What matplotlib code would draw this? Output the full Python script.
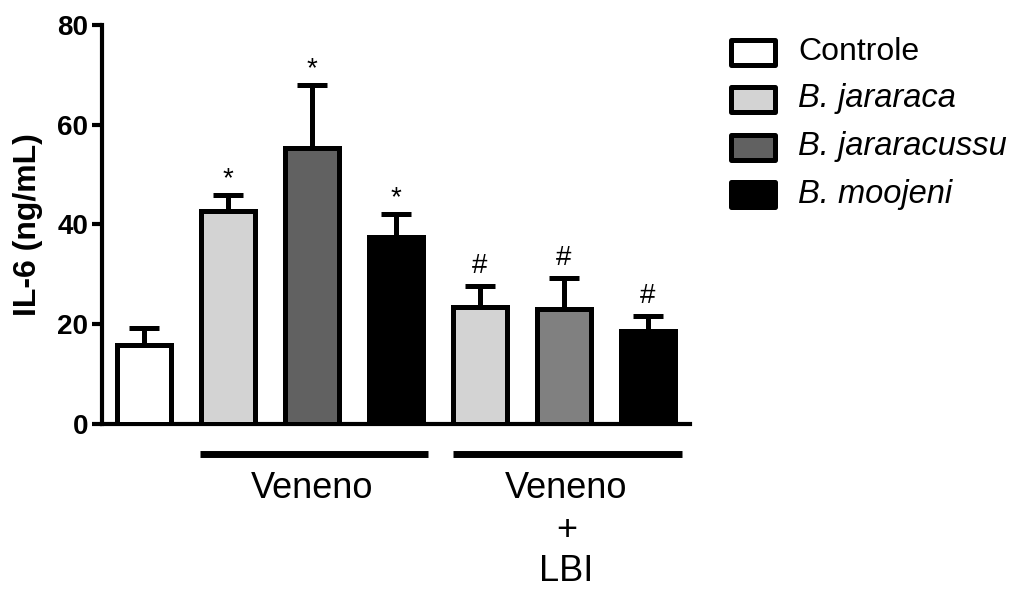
import matplotlib
matplotlib.use("Agg")
import matplotlib.pyplot as plt
from matplotlib.patches import Rectangle
import numpy as np

plt.rcParams['font.family'] = ['Liberation Sans', 'DejaVu Sans']

# values (IL-6, ng/mL; mean and upper SEM)
groups = ['Controle', 'B. jararaca', 'B. jararacussu', 'B. moojeni',
          'B. jararaca + LBI', 'B. jararacussu + LBI', 'B. moojeni + LBI']
means = [15.7, 42.6, 55.4, 37.4, 23.3, 22.9, 18.6]
sem = [3.5, 3.2, 12.5, 4.6, 4.4, 6.4, 2.9]
marks = ['', '*', '*', '*', '#', '#', '#']
bar_colors = ['white', '#d3d3d3', '#616161', 'black', '#d3d3d3', '#808080', 'black']

legend_labels = ['Controle', 'B. jararaca', 'B. jararacussu', 'B. moojeni']
legend_colors = ['white', '#d3d3d3', '#616161', 'black']
legend_styles = ['normal', 'italic', 'italic', 'italic']

W, H = 1017, 590
fig = plt.figure(figsize=(W / 100, H / 100), dpi=100)
ax = fig.add_axes([102 / W, 1 - 423.5 / H, 588 / W, 398.5 / H])

x = np.arange(len(means))
ax.bar(x, means, width=0.64, color=bar_colors, edgecolor='black',
       linewidth=3.6, zorder=3)
ax.errorbar(x, means, yerr=[np.zeros(len(sem)), sem], fmt='none', ecolor='black',
            elinewidth=3.6, capsize=10.5, capthick=3.6, zorder=2)

for xi, m, s, mk in zip(x, means, sem, marks):
    if not mk:
        continue
    off = 2 if mk == '*' else 5
    ax.annotate(mk, (xi, m + s), xytext=(0, off), textcoords='offset points',
                ha='center', va='bottom', fontsize=20)

ax.set_xlim(-0.5, 6.5)
ax.set_ylim(0, 80)
ax.set_yticks([0, 20, 40, 60, 80])
ax.set_xticks([])
for sp in ['top', 'right']:
    ax.spines[sp].set_visible(False)
for sp in ['left', 'bottom']:
    ax.spines[sp].set_linewidth(3)
ax.tick_params(axis='y', length=7, width=3, pad=3, labelsize=20)
for lab in ax.get_yticklabels():
    lab.set_fontweight('bold')

ax.set_ylabel('IL-6 (ng/mL)', fontsize=23, fontweight='bold')
ax.yaxis.set_label_coords(-0.10, 0.5)

# group brackets under the axis
ax.plot([0.67, 3.38], [-6.1, -6.1], color='black', lw=5, clip_on=False,
        solid_capstyle='butt')
ax.plot([3.68, 6.40], [-6.1, -6.1], color='black', lw=5, clip_on=False,
        solid_capstyle='butt')
ax.text(2.0, -9.6, 'Veneno', ha='center', va='top', fontsize=26)
ax.text(5.03, -9.6, 'Veneno\n+\nLBI', ha='center', va='top', fontsize=26,
        linespacing=1.24)

# legend
row_y = [52, 99, 147, 195]
for yy, lab, col, st in zip(row_y, legend_labels, legend_colors, legend_styles):
    fig.add_artist(Rectangle(((729 + 2) / W, 1 - (yy + 12.5) / H), 44 / W, 25 / H,
                             transform=fig.transFigure, facecolor=col,
                             edgecolor='black', linewidth=3.6, joinstyle='round'))
    fig.text(798 / W, 1 - yy / H, lab, fontsize=23 if st == 'normal' else 23.5,
             style=st, ha='left', va='center')

fig.savefig('out.png', dpi=100)
